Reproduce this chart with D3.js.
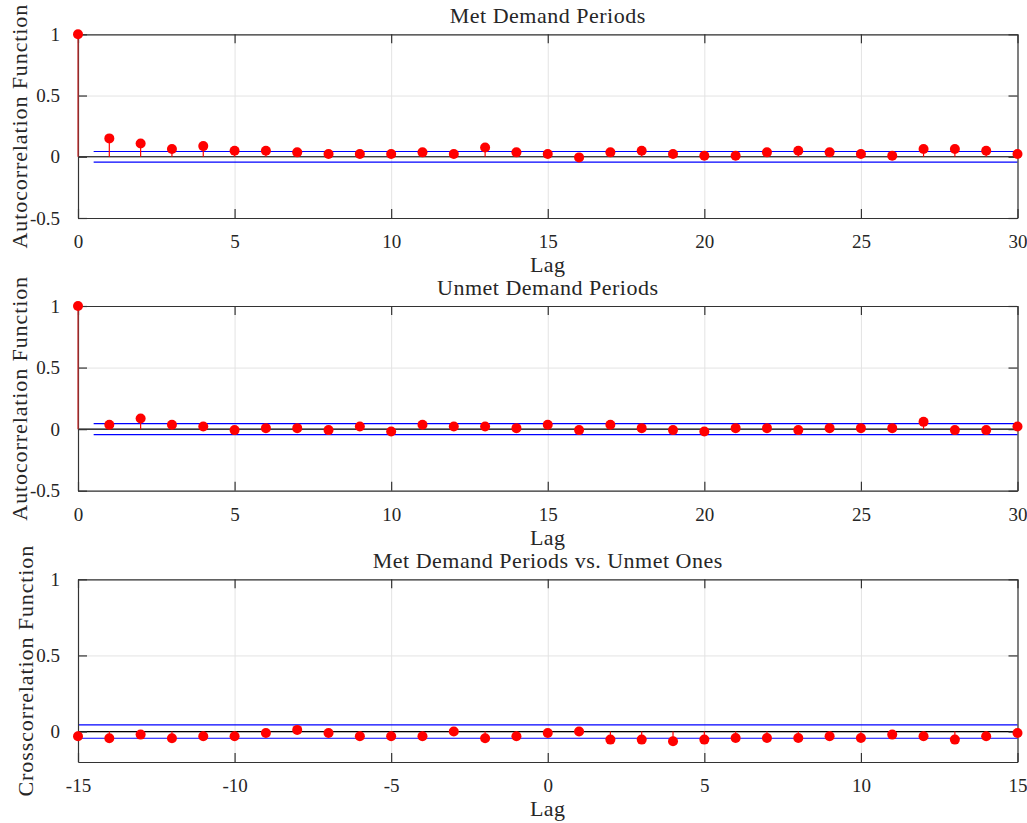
<!DOCTYPE html>
<html>
<head>
<meta charset="utf-8">
<script src="https://cdn.jsdelivr.net/npm/d3@7/dist/d3.min.js"></script>
<style>
  html, body { margin: 0; padding: 0; background: #fff; }
</style>
</head>
<body>
<svg id="chart" width="1027" height="823"></svg>
<script>
// lags 0..30 for the two autocorrelation panels, -15..15 for the cross one
const acfLags = d3.range(0, 31);
const ccfLags = d3.range(-15, 16);

const metAcf = [1, 0.150, 0.109, 0.063, 0.087, 0.049, 0.049, 0.036, 0.022, 0.022, 0.022,
  0.036, 0.022, 0.076, 0.036, 0.022, -0.005, 0.036, 0.049, 0.022, 0.008,
  0.008, 0.036, 0.049, 0.036, 0.022, 0.008, 0.063, 0.063, 0.049, 0.022];

const unmetAcf = [1, 0.035, 0.086, 0.035, 0.022, -0.008, 0.008, 0.008, -0.008, 0.022, -0.019,
  0.035, 0.022, 0.022, 0.008, 0.035, -0.008, 0.035, 0.008, -0.008, -0.019,
  0.008, 0.008, -0.008, 0.008, 0.008, 0.008, 0.059, -0.008, -0.008, 0.022];

const crossCcf = [-0.031, -0.044, -0.020, -0.044, -0.031, -0.031, -0.009, 0.011, -0.009, -0.031,
  -0.031, -0.031, 0.000, -0.044, -0.031, -0.009, 0.000, -0.053, -0.053, -0.064,
  -0.053, -0.042, -0.042, -0.042, -0.031, -0.042, -0.020, -0.031, -0.053, -0.031, -0.009];

const acfXTicks = [0, 5, 10, 15, 20, 25, 30];
const ccfXTicks = [-15, -10, -5, 0, 5, 10, 15];
const acfYTicks = [-0.5, 0, 0.5, 1];
const ccfYTicks = [0, 0.5, 1];

const titles = ['Met Demand Periods', 'Unmet Demand Periods', 'Met Demand Periods vs. Unmet Ones'];
const yLabels = ['Autocorrelation Function', 'Autocorrelation Function', 'Crosscorrelation Function'];
const bounds = [0.043, 0.045, 0.044];

const FONT = '"Liberation Serif", "Times New Roman", serif';
const svg = d3.select('#chart').attr('font-family', FONT);
const left = 78;
const right = 1017.5;
const axisColor = '#333';
const textColor = '#262626';

function drawPanel(cfg) {
  const {
    top, bottom, lags, values, xDomain, yDomain, xTicks, yTicks, title, yLabel, bound, boundStart,
  } = cfg;
  const x = d3.scaleLinear().domain(xDomain).range([left, right]);
  const y = d3.scaleLinear().domain(yDomain).range([bottom, top]);
  const h = bottom - top;
  const w = right - left;
  const g = svg.append('g');

  // grid
  g.append('g')
    .attr('transform', `translate(0,${bottom})`)
    .call(d3.axisBottom(x).tickValues(xTicks).tickSize(-h).tickFormat(''))
    .call((s) => s.select('.domain').remove())
    .selectAll('line').attr('stroke', '#e3e3e3');
  g.append('g')
    .attr('transform', `translate(${left},0)`)
    .call(d3.axisLeft(y).tickValues(yTicks).tickSize(-w).tickFormat(''))
    .call((s) => s.select('.domain').remove())
    .selectAll('line').attr('stroke', '#e3e3e3');

  // reference lines
  g.append('line')
    .attr('x1', x(xDomain[0])).attr('x2', x(xDomain[1]))
    .attr('y1', y(0)).attr('y2', y(0))
    .attr('stroke', '#000').attr('stroke-width', 1.2);
  [bound, -bound].forEach((b) => {
    g.append('line')
      .attr('x1', x(boundStart)).attr('x2', x(xDomain[1]))
      .attr('y1', y(b)).attr('y2', y(b))
      .attr('stroke', '#0000ff').attr('stroke-width', 1.2);
  });

  // box and inward ticks
  const fmt = (d) => String(d);
  const xb = g.append('g')
    .attr('transform', `translate(0,${bottom})`)
    .call(d3.axisBottom(x).tickValues(xTicks).tickSizeInner(-9).tickSizeOuter(0).tickPadding(17).tickFormat(fmt));
  const xt = g.append('g')
    .attr('transform', `translate(0,${top})`)
    .call(d3.axisTop(x).tickValues(xTicks).tickSizeInner(-9).tickSizeOuter(0).tickFormat(''));
  const yl = g.append('g')
    .attr('transform', `translate(${left},0)`)
    .call(d3.axisLeft(y).tickValues(yTicks).tickSizeInner(-9).tickSizeOuter(0).tickPadding(18).tickFormat(fmt));
  const yr = g.append('g')
    .attr('transform', `translate(${right},0)`)
    .call(d3.axisRight(y).tickValues(yTicks).tickSizeInner(-9).tickSizeOuter(0).tickFormat(''));
  [xb, xt, yl, yr].forEach((a) => {
    a.attr('font-family', FONT).attr('font-size', 19);
    a.selectAll('.domain').attr('stroke', axisColor).attr('stroke-width', 1.2);
    a.selectAll('.tick line').attr('stroke', axisColor).attr('stroke-width', 1.2);
    a.selectAll('.tick text').attr('fill', textColor);
  });
  xb.selectAll('.tick text').attr('dy', '0.71em');

  // stems and markers
  const pts = lags.map((lag, i) => ({ lag, v: values[i] }));
  g.append('g').selectAll('line')
    .data(pts)
    .join('line')
    .attr('x1', (d) => x(d.lag)).attr('x2', (d) => x(d.lag))
    .attr('y1', y(0)).attr('y2', (d) => y(d.v))
    .attr('stroke', (d) => (d.lag === 0 && d.v === 1 ? '#cc2a2a' : '#ff0000'))
    .attr('stroke-width', 1.2);
  g.append('g').selectAll('circle')
    .data(pts)
    .join('circle')
    .attr('cx', (d) => x(d.lag)).attr('cy', (d) => y(d.v))
    .attr('r', 5)
    .attr('fill', '#ff0000');

  // texts
  const label = (sel) => sel
    .attr('font-family', FONT)
    .attr('font-size', 22)
    .attr('letter-spacing', 0.5)
    .attr('fill', textColor)
    .attr('text-anchor', 'middle');
  g.append('text').call(label)
    .attr('x', (left + right) / 2).attr('y', top - 11)
    .text(title);
  g.append('text').call(label)
    .attr('x', (left + right) / 2).attr('y', bottom + 54)
    .text('Lag');
  g.append('text').call(label)
    .attr('letter-spacing', 0.9)
    .attr('transform', `translate(${cfg.labelX},${(top + bottom) / 2}) rotate(-90)`)
    .text(yLabel);
}

drawPanel({
  top: 34.3, bottom: 218, lags: acfLags, values: metAcf, xDomain: [0, 30], yDomain: [-0.5, 1],
  xTicks: acfXTicks, yTicks: acfYTicks, title: titles[0], yLabel: yLabels[0], bound: bounds[0], boundStart: 0.5, labelX: 27,
});
drawPanel({
  top: 306, bottom: 490.7, lags: acfLags, values: unmetAcf, xDomain: [0, 30], yDomain: [-0.5, 1],
  xTicks: acfXTicks, yTicks: acfYTicks, title: titles[1], yLabel: yLabels[1], bound: bounds[1], boundStart: 0.5, labelX: 27,
});
drawPanel({
  top: 579.3, bottom: 762, lags: ccfLags, values: crossCcf, xDomain: [-15, 15], yDomain: [-0.2, 1],
  xTicks: ccfXTicks, yTicks: ccfYTicks, title: titles[2], yLabel: yLabels[2], bound: bounds[2], boundStart: -15, labelX: 33,
});
</script>
</body>
</html>
